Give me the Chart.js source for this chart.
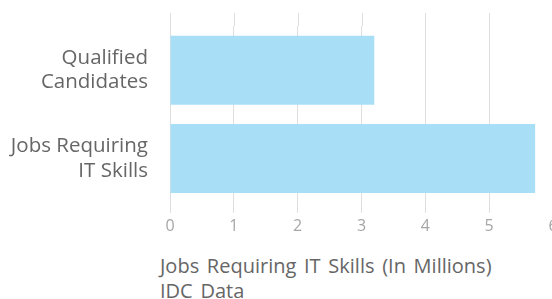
<!DOCTYPE html>
<html>
<head>
<meta charset="utf-8">
<script src="https://cdn.jsdelivr.net/npm/chart.js@4.4.0/dist/chart.umd.min.js"></script>
<style>
    html, body { margin: 0; padding: 0; background: #fff; overflow: hidden; }
    body { width: 552px; height: 299px; position: relative; }
    #wrap { position: absolute; left: 0; top: 0; width: 562px; height: 248px; }
    #titre {
        position: absolute; left: 160px; top: 253px;
        font-family: "Open Sans", sans-serif; font-size: 20px; line-height: 25px;
        word-spacing: 2.5px; color: #666; white-space: nowrap;
    }
</style>
</head>
<body>
<div id="wrap"><canvas id="chartJobs"></canvas></div>
<div id="titre">
    <div id="titre1"></div>
    <div id="titre2"></div>
</div>
<script>
//---------------------------------------------------------------------
// DONNÉES
//---------------------------------------------------------------------
const categories = [["Qualified", "Candidates"], ["Jobs Requiring", "IT Skills"]];
const valeurs = [3.2, 5.72];
const ticksX = [0, 1, 2, 3, 4, 5, 6];
const titreLignes = ["Jobs Requiring IT Skills (In Millions)", "IDC Data"];

document.getElementById("titre1").textContent = titreLignes[0];
document.getElementById("titre2").textContent = titreLignes[1];

// prolonge les lignes de grille verticales au-dessus de la zone du graphique
const grilleHaut = {
    id: "grilleHaut",
    beforeDatasetsDraw(chart) {
        const ctx = chart.ctx;
        const x = chart.scales.x;
        ctx.save();
        ctx.strokeStyle = "#dedede";
        ctx.lineWidth = 1;
        x.ticks.forEach(t => {
            const px = Math.round(x.getPixelForValue(t.value)) + 0.5;
            ctx.beginPath();
            ctx.moveTo(px, 13);
            ctx.lineTo(px, chart.chartArea.top);
            ctx.stroke();
        });
        ctx.restore();
    }
};

const ctx = document.getElementById("chartJobs");
new Chart(ctx, {
    type: "bar",
    data: {
        labels: categories,
        datasets: [{
            data: valeurs,
            backgroundColor: "#a8dff7",
            borderWidth: 0,
            barPercentage: 0.78,
            categoryPercentage: 1
        }]
    },
    options: {
        indexAxis: "y",
        responsive: true,
        maintainAspectRatio: false,
        animation: false,
        layout: { padding: { top: 26, right: 9, bottom: 8, left: 0 } },
        plugins: {
            legend: { display: false },
            tooltip: { enabled: false }
        },
        scales: {
            x: {
                min: ticksX[0],
                max: ticksX[ticksX.length - 1],
                afterBuildTicks: scale => {
                    scale.ticks = ticksX.map(v => ({ value: v }));
                },
                border: { display: false },
                grid: { color: "#dedede", tickLength: 10 },
                ticks: {
                    color: "#a6a6a6",
                    padding: 4,
                    font: { family: "'Open Sans', sans-serif", size: 16 }
                }
            },
            y: {
                afterFit: scale => {
                    scale.width = 170;
                    scale.paddingTop = 0;
                    scale.paddingBottom = 0;
                },
                border: { display: false },
                grid: { display: false, drawTicks: false },
                ticks: {
                    color: "#666",
                    padding: 22,
                    font: { family: "'Open Sans', sans-serif", size: 20.5, lineHeight: 1.2 }
                }
            }
        }
    },
    plugins: [grilleHaut]
});
</script>
</body>
</html>
